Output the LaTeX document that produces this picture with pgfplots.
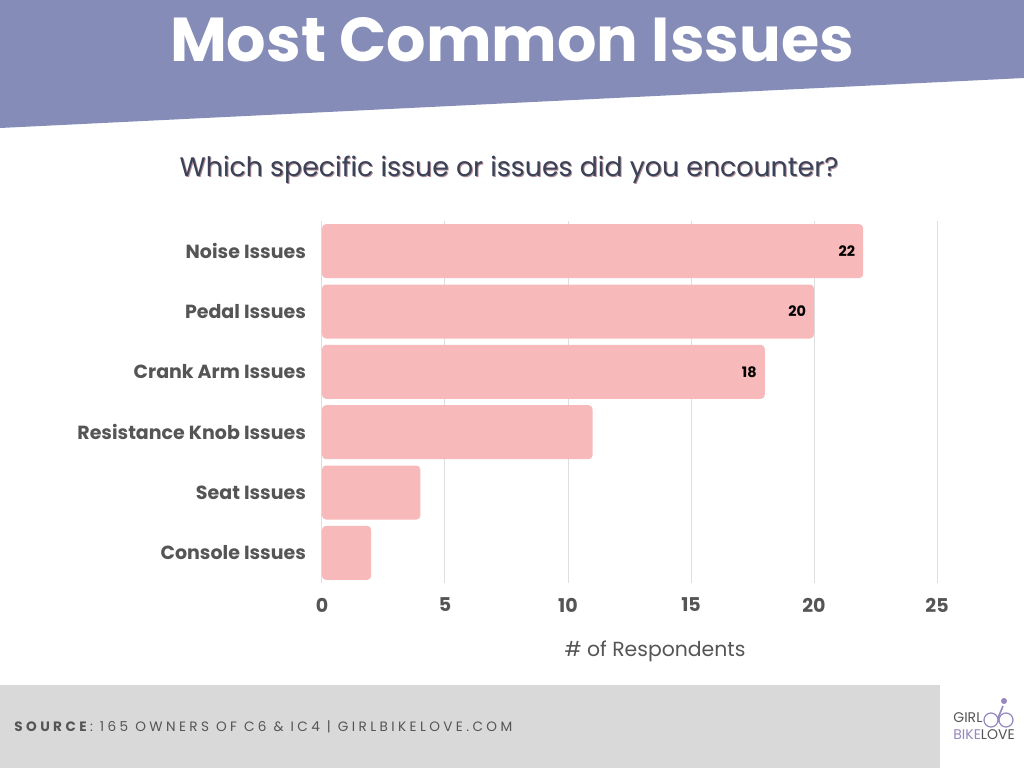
\documentclass[border=0pt]{standalone}
\usepackage{pgfplots}
\pgfplotsset{compat=1.18}
\usepackage{fontspec}
\setmainfont{Poppins}
\definecolor{banner}{RGB}{133,140,183}
\definecolor{barpink}{RGB}{247,185,185}
\definecolor{txtgray}{RGB}{85,85,85}
\definecolor{subcol}{RGB}{58,66,88}
\definecolor{footgray}{RGB}{217,217,217}
\definecolor{gridgray}{RGB}{222,222,222}
\definecolor{logopurple}{RGB}{150,135,190}

\begin{document}
\begin{tikzpicture}[x=0.5pt,y=0.5pt]
\useasboundingbox (0,0) rectangle (1024,768);
\fill[white] (0,0) rectangle (1024,768);
% banner
\fill[banner] (0,768) -- (1024,768) -- (1024,690) -- (0,640) -- cycle;
\node[white, font=\fontsize{31}{36}\selectfont\bfseries] at (512,728) {Most Common Issues};
\node[subcol!40!pink, font=\fontsize{13.4}{16}\selectfont] at (510,597) {Which specific issue or issues did you encounter?};
\node[subcol, font=\fontsize{13.4}{16}\selectfont] at (509,598) {Which specific issue or issues did you encounter?};

\begin{axis}[
    at={(161pt,92.5pt)}, anchor=south west,
    scale only axis, width=307.5pt, height=181pt,
    xmin=0, xmax=25, ymin=-0.5, ymax=5.5,
    y dir=reverse,
    axis line style={draw=none},
    major tick length=0pt,
    xtick={0,5,...,25},
    ytick={0,...,5},
    yticklabels={Noise Issues, Pedal Issues, Crank Arm Issues, Resistance Knob Issues, Seat Issues, Console Issues},
    xmajorgrids,
    grid style={gridgray, line width=0.5pt},
    ticklabel style={font=\fontsize{9.5}{11}\selectfont\bfseries, text=txtgray},
    xticklabel style={yshift=-4pt},
    yticklabel style={xshift=-4.5pt},
    /pgf/number format/assume math mode=true,
    clip=false,
]
\addplot[xbar, fill=barpink, draw=none, bar width=27pt, rounded corners=2pt] coordinates {
  (22,0) (20,1) (18,2) (11,3) (4,4) (2,5)
};
\addplot[draw=none, mark=none, point meta=x, nodes near coords,
  nodes near coords style={anchor=east, xshift=-0.5pt, font=\fontsize{7.2}{8}\selectfont\bfseries, text=black}]
  coordinates { (22,0) (20,1) (18,2) };
\end{axis}

\node[txtgray, font=\fontsize{10.2}{12}\selectfont] at (655,117) {\# of Respondents};

% footer
\fill[footgray] (0,0) rectangle (940,83);
\node[anchor=west, inner sep=0pt, txtgray, font=\fontsize{6.8}{8}\selectfont\addfontfeature{LetterSpace=25}] at (14,41)
  {\textbf{SOURCE}: 165 OWNERS OF C6 \& IC4 | GIRLBIKELOVE.COM};
% logo
\node[anchor=west, txtgray, font=\fontsize{7}{7}\selectfont, inner sep=0pt] at (953,50) {GIRL};
\node[anchor=west, logopurple, font=\fontsize{7}{7}\selectfont, inner sep=0pt] at (953,33) {BIKE\textcolor{txtgray}{LOVE}};
\draw[logopurple, line width=0.6pt] (991,48) circle (7) (1006,48) circle (7);
\draw[logopurple, line width=0.8pt] (998,50) -- (1003,62);
\fill[logopurple] (1004,67) circle (3);
\end{tikzpicture}
\end{document}
